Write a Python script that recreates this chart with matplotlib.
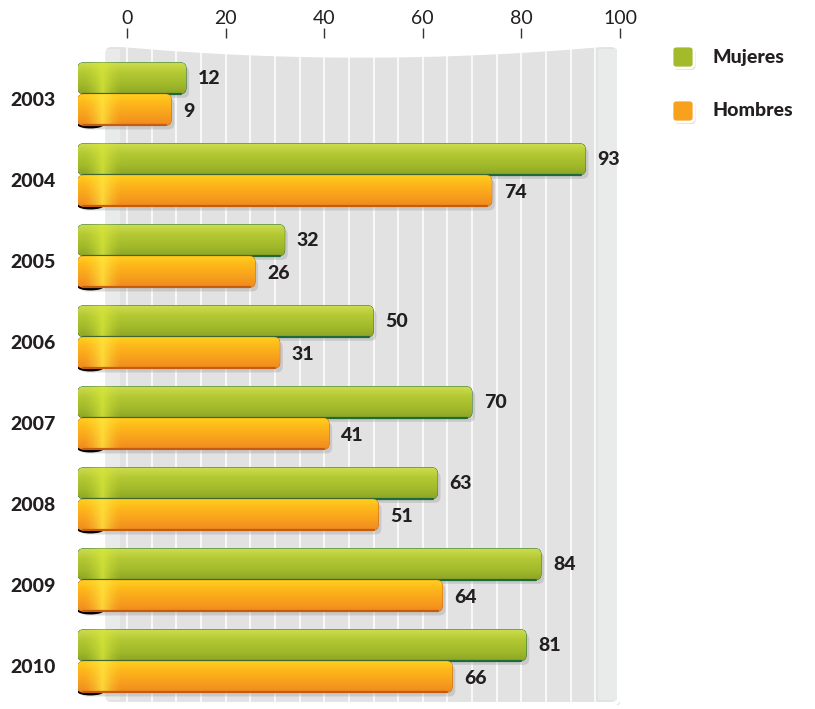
import numpy as np
import matplotlib.pyplot as plt
from matplotlib.patches import FancyBboxPatch, Ellipse
from matplotlib.colors import LinearSegmentedColormap, to_rgb
import matplotlib.transforms as mtransforms

# Data
years = ['2003', '2004', '2005', '2006', '2007', '2008', '2009', '2010']
mujeres = [12, 93, 32, 50, 70, 63, 84, 81]
hombres = [9, 74, 26, 31, 41, 51, 64, 66]
series_names = ['Mujeres', 'Hombres']

plt.rcParams['font.family'] = ['Lato', 'DejaVu Sans']

W, H = 815, 709
fig = plt.figure(figsize=(W / 100, H / 100), dpi=100)

# axes placed in pixels: x from -10 (px 77.7) to 100 (px 620), y top px 38, bottom px 705
x0_px, x1_px = 77.7, 620.0
top_px, bot_px = 38.0, 705.0
ax = fig.add_axes([x0_px / W, (H - bot_px) / H, (x1_px - x0_px) / W, (bot_px - top_px) / H])
ax.set_xlim(-10, 100)
ppu_y = 81.0
ax.set_ylim((bot_px - 94) / ppu_y, (top_px - 94) / ppu_y)
aspect = (1 / ppu_y) / (10 / 49.3)   # y-units per x-unit for equal pixel rounding

for s in ax.spines.values():
    s.set_visible(False)
ax.xaxis.tick_top()
ax.set_xticks(range(0, 101, 20))
ax.tick_params(axis='x', length=7, width=1, color='#333333', pad=1,
               labelsize=14, labelcolor='#231f20')
ax.set_yticks([])

# Panel background
ymin_panel, ymax_panel = (45 - 94) / ppu_y, (704 - 94) / ppu_y
shadow = FancyBboxPatch((-4.4, ymin_panel + 0.03), 104.6, ymax_panel - ymin_panel,
                        boxstyle='round,pad=0,rounding_size=1.6', mutation_aspect=aspect,
                        fc='#bdbdbd', ec='none', alpha=0.5, zorder=0)
ax.add_patch(shadow)
panel = FancyBboxPatch((-4.8, ymin_panel), 104.6, ymax_panel - ymin_panel,
                       boxstyle='round,pad=0,rounding_size=1.6', mutation_aspect=aspect,
                       fc='#e2e2e2', ec='white', lw=3, zorder=1)
ax.add_patch(panel)
# light strips at panel edges
ax.fill_betweenx([ymin_panel + 0.05, ymax_panel - 0.05], -4.3, -1.5, color='#e8ebea', zorder=1.1, lw=0)
ax.fill_betweenx([ymin_panel + 0.05, ymax_panel - 0.05], 95.5, 99.3, color='#e8ebea', zorder=1.1, lw=0)
# vertical grid lines
ax.vlines(np.arange(0, 100, 5), ymin_panel, ymax_panel - 0.03, colors='white', lw=1.1, zorder=1.2)
# curved white top
xc = np.linspace(-4.5, 99.5, 200)
curve = ymin_panel + 0.15 - 0.15 * ((xc - 47.5) / 52.0) ** 2
ax.fill_between(xc, ymin_panel, curve, color='white', zorder=1.3, lw=0)

y = np.arange(len(years))
off = 0.195
h = 0.385
start = -10

bars_m = ax.barh(y - off, np.array(mujeres) - start, left=start, height=h)
bars_h = ax.barh(y + off, np.array(hombres) - start, left=start, height=h)

green = ['#cddd4f', '#b3c833', '#a3bb2b', '#8ea526', '#1e6a3a']
orange = ['#ffd21f', '#fdb61a', '#f8a11d', '#f08a1f', '#c55d10']


def draw_bar(rect, cols, edge_dark, z, curl):
    bx, by, bw, bh = rect.get_x(), rect.get_y(), rect.get_width(), rect.get_height()
    rect.set_visible(False)
    # drop shadow
    sh = FancyBboxPatch((bx + 0.6, by + 0.05), bw, bh,
                        boxstyle='round,pad=0,rounding_size=1.2', mutation_aspect=aspect,
                        fc='#9a9a9a', ec='none', alpha=0.35, zorder=z - 0.1)
    ax.add_patch(sh)
    if curl:
        ax.add_patch(Ellipse((bx + 2.6, by + bh - 0.005), 5.2, 0.085, fc='black', ec='none',
                             zorder=z - 0.05))
    p = FancyBboxPatch((bx, by), bw, bh, boxstyle='round,pad=0,rounding_size=1.2',
                       mutation_aspect=aspect, fc=cols[2], ec=edge_dark, lw=0.6, zorder=z)
    ax.add_patch(p)
    cmap = LinearSegmentedColormap.from_list('g', cols[:4])
    grad = np.linspace(0, 1, 64).reshape(-1, 1)
    im = ax.imshow(grad, cmap=cmap, aspect='auto', extent=(bx, bx + bw, by + bh, by),
                   zorder=z + 0.01, interpolation='bilinear')
    im.set_clip_path(p)
    # bright fold highlight near the left
    hx = np.linspace(0, 1, 80)
    alpha = np.clip(1 - np.abs(hx - 0.55) / 0.45, 0, 1) ** 1.5 * 0.8
    img = np.zeros((1, 80, 4))
    img[0, :, :3] = to_rgb('#ffe640') if cols is orange else to_rgb('#d8e63a')
    img[0, :, 3] = alpha
    im2 = ax.imshow(img, aspect='auto', extent=(bx, bx + 9, by + bh, by),
                    zorder=z + 0.02, interpolation='bilinear')
    im2.set_clip_path(p)
    # bottom dark edge
    ax.plot([bx + 1, bx + bw - 1], [by + bh, by + bh], color=edge_dark, lw=1.6,
            zorder=z + 0.03, solid_capstyle='round')


for r in bars_m:
    draw_bar(r, green, green[4], 3, False)
for r in bars_h:
    draw_bar(r, orange, orange[4], 4, True)

lab_kw = dict(fontsize=14, fontweight='black', color='#231f20', va='center', ha='left')
for i in range(len(years)):
    ax.text(mujeres[i] + 2.4, y[i] - off, str(mujeres[i]), zorder=6, **lab_kw)
    ax.text(hombres[i] + 2.4, y[i] + off + 0.02, str(hombres[i]), zorder=6, **lab_kw)

trans = mtransforms.blended_transform_factory(fig.transFigure, ax.transData)
for i, yr in enumerate(years):
    ax.text(33 / W, y[i] + 0.08, yr, transform=trans, fontsize=14, fontweight='black',
            color='#231f20', ha='center', va='center', clip_on=False)

# Legend
leg_cols = [green, orange]
for k, name in enumerate(series_names):
    cy = 1 - (57 + 54 * k) / H
    cx = 683 / W
    sw, shh = 22 / W, 22 / H
    fig.patches.append(FancyBboxPatch((cx - sw / 2 + 1.5 / W, cy - shh / 2 - 2 / H), sw, shh,
                                      boxstyle='round,pad=0,rounding_size=0.006',
                                      transform=fig.transFigure, fc='#aaaaaa', ec='none',
                                      alpha=0.45, figure=fig))
    sq = FancyBboxPatch((cx - sw / 2, cy - shh / 2), sw, shh,
                        boxstyle='round,pad=0,rounding_size=0.006',
                        transform=fig.transFigure, fc=leg_cols[k][2], ec='white', lw=2, figure=fig)
    fig.patches.append(sq)
    fig.text(712 / W, cy, name, fontsize=14, fontweight='black', color='#231f20',
             ha='left', va='center')

fig.savefig('out.png', dpi=100)
